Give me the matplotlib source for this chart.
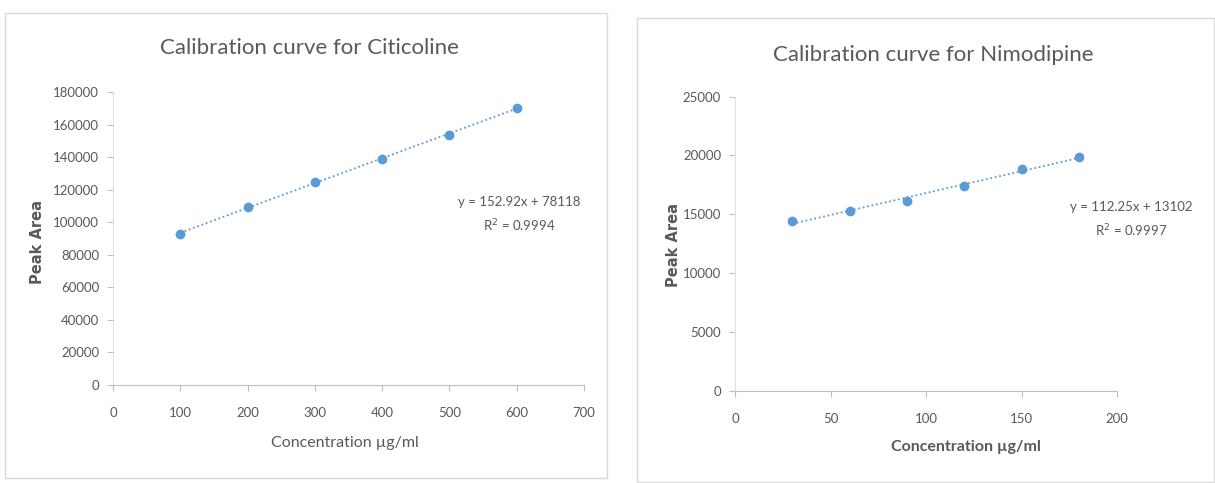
import numpy as np
import matplotlib
matplotlib.use("Agg")
import matplotlib.pyplot as plt
from matplotlib.patches import Rectangle

plt.rcParams['font.family'] = ['Lato', 'DejaVu Sans']

# Citicoline data
cit_conc = [100, 200, 300, 400, 500, 600]
cit_area = [92800, 109500, 124800, 139000, 153800, 170200]
cit_eq = "y = 152.92x + 78118"
cit_r2 = "R$^2$ = 0.9994"

# Nimodipine data
nim_conc = [30, 60, 90, 120, 150, 180]
nim_area = [14400, 15300, 16150, 17400, 18850, 19850]
nim_eq = "y = 112.25x + 13102"
nim_r2 = "R$^2$ = 0.9997"

blue = '#5b9bd5'
grey = '#595959'
W, H = 1215, 483

fig = plt.figure(figsize=(12.15, 4.83), dpi=100)

# panel borders
for (x0, y0, x1, y1) in [(5, 13, 607, 478), (637, 18, 1214, 482)]:
    fig.patches.append(Rectangle((x0 / W, 1 - y1 / H), (x1 - x0) / W, (y1 - y0) / H,
                                 transform=fig.transFigure, fill=False,
                                 edgecolor='#d9d9d9', linewidth=1))


def panel(rect, x, y, xlim, ylim, xstep, ystep, title, tpos, eq, r2, eqpos,
          ylab_pos, xlab_pos, xbold):
    ax = fig.add_axes(rect)
    ax.plot(x, y, 'o', color=blue, markersize=6, zorder=3)
    k, b = np.polyfit(x, y, 1)
    xs = np.array([x[0], x[-1]])
    ax.plot(xs, k * xs + b, linestyle=(0, (1, 1.5)), color=blue, linewidth=1.3)
    ax.set_xlim(*xlim)
    ax.set_ylim(*ylim)
    ax.set_xticks(np.arange(xlim[0], xlim[1] + 1, xstep))
    ax.set_yticks(np.arange(ylim[0], ylim[1] + 1, ystep))
    for s in ['top', 'right']:
        ax.spines[s].set_visible(False)
    ax.spines['bottom'].set_color('#bfbfbf')
    ax.spines['left'].set_color('#e0e0e0')
    ax.tick_params(colors='#bfbfbf', labelcolor=grey, labelsize=9.5, length=4)
    ax.tick_params(axis='x', pad=12)
    ax.tick_params(axis='y', pad=6)
    fig.text(tpos[0] / W, 1 - tpos[1] / H, title, ha='center', va='center',
             fontsize=16, color=grey)
    fig.text(eqpos[0] / W, 1 - eqpos[1] / H, eq, ha='center', va='center',
             fontsize=9.5, color=grey)
    fig.text(eqpos[0] / W, 1 - (eqpos[1] + 24) / H, r2, ha='center', va='center',
             fontsize=9.5, color=grey)
    fig.text(ylab_pos[0] / W, 1 - ylab_pos[1] / H, 'Peak Area', rotation=90,
             ha='center', va='center', fontsize=10.5, color=grey,
             fontweight='bold', family='DejaVu Sans')
    fig.text(xlab_pos[0] / W, 1 - xlab_pos[1] / H, 'Concentration µg/ml',
             ha='center', va='center', fontsize=11.5, color=grey,
             fontweight='bold' if xbold else 'normal')
    return ax


panel([113 / W, 1 - 385 / H, (584 - 113) / W, (385 - 92) / H],
      cit_conc, cit_area, (0, 700), (0, 180000), 100, 20000,
      'Calibration curve for Citicoline', (309, 48), cit_eq, cit_r2, (519, 202),
      (38, 242), (345, 443), False)

panel([735 / W, 1 - 390.7 / H, (1117 - 735) / W, (390.7 - 96.7) / H],
      nim_conc, nim_area, (0, 200), (0, 25000), 50, 5000,
      'Calibration curve for Nimodipine', (933, 55), nim_eq, nim_r2, (1131, 207),
      (673, 245), (966, 447), True)

fig.savefig('out.png', dpi=100)
